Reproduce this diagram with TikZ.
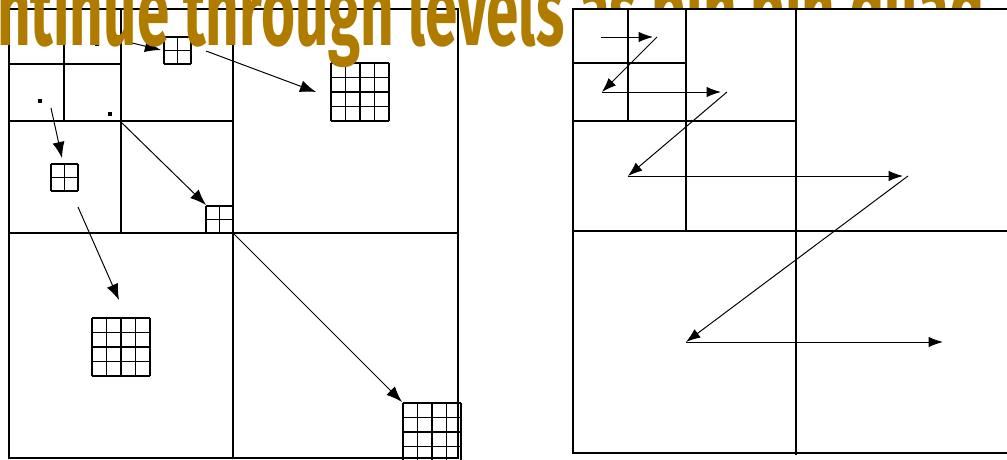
\documentclass[tikz,border=0pt]{standalone}
\usepackage{fontspec}
\newfontfamily\headfont{Fira Sans}
\usetikzlibrary{arrows.meta}
\definecolor{headgold}{RGB}{176,124,0}

% square grid of cells: corner x, corner y, cells per side, cell size
\newcommand{\cellgrid}[4]{%
  \foreach \gi in {0,...,#3}{
    \draw[cellline] (#1+\gi*#4,#2) -- (#1+\gi*#4,#2+#3*#4);
    \draw[cellline] (#1,#2+\gi*#4) -- (#1+#3*#4,#2+\gi*#4);
  }}

\begin{document}
\begin{tikzpicture}[
  x=0.025cm,y=-0.025cm,
  frame/.style={line width=1.3pt},
  cellline/.style={line width=1.3pt},
  arr/.style={line width=0.7pt,-{Latex[length=4mm,width=3mm]}},
  zarr/.style={line width=0.7pt,-{Latex[length=3.6mm,width=2.6mm]}},
  pixdot/.style={fill,inner sep=0pt,minimum size=2.4pt},
]
\useasboundingbox (0,0) rectangle (1007,460);
\clip (0,0) rectangle (1007,460);

%% left panel: quadtree cells
\draw[frame] (9,9) rectangle (458,458);
\draw[frame] (233,9) -- (233,458);
\draw[frame] (9,233) -- (458,233);
\draw[frame] (121,9) -- (121,233);
\draw[frame] (9,121) -- (233,121);
\draw[frame] (64,9) -- (64,121);
\draw[frame] (9,64) -- (121,64);

\node[pixdot] (d1) at (97,44) {};
\node[pixdot] (d2) at (40,101) {};
\node[pixdot] (d3) at (110,114) {};

%% left panel: blown-up bins
\cellgrid{164}{37}{2}{13.5}
\cellgrid{51}{164}{2}{13.5}
\cellgrid{206}{206}{2}{13.5}
\cellgrid{331}{63}{4}{14.5}
\cellgrid{92}{318}{4}{14.5}
\cellgrid{403}{403}{4}{14.5}

\coordinate (l1s) at (128,42);  \coordinate (l1e) at (161,50);
\coordinate (l2s) at (206,51);  \coordinate (l2e) at (316,92);
\coordinate (l3s) at (51,108);  \coordinate (l3e) at (62,158);
\coordinate (l4s) at (122,123); \coordinate (l4e) at (206,205);
\coordinate (l5s) at (78,207);  \coordinate (l5e) at (119,300);
\coordinate (l6s) at (233,233); \coordinate (l6e) at (402,402);
\foreach \n in {1,...,6}
  \draw[arr] (l\n s) -- (l\n e);

%% title
\node[headgold,font=\headfont\bfseries\fontsize{71}{71}\selectfont,
      anchor=base west,xscale=0.585,inner sep=0pt] (title) at (-3,45)
  {\llap{Co}ntinue through levels as bin bin quad};

%% right panel: Z-order walk
\draw[frame,fill=white] (573,9) rectangle (1019,453);
\draw[frame] (796,9) -- (796,455);
\draw[frame] (573,231) -- (1019,231);
\draw[frame] (686,9) -- (686,231);
\draw[frame] (573,121) -- (796,121);
\draw[frame] (628,9) -- (628,121);
\draw[frame] (573,63) -- (686,63);

\coordinate (r1s) at (601,37);  \coordinate (r1e) at (653,37);
\coordinate (r2s) at (657,37);  \coordinate (r2e) at (602,92);
\coordinate (r3s) at (602,92);  \coordinate (r3e) at (721,92);
\coordinate (r4s) at (727,92);  \coordinate (r4e) at (628,176);
\coordinate (r5s) at (628,176); \coordinate (r5e) at (903,176);
\coordinate (r6s) at (908,176); \coordinate (r6e) at (686,342);
\coordinate (r7s) at (686,342); \coordinate (r7e) at (943,342);
\foreach \n in {1,...,7}
  \draw[zarr] (r\n s) -- (r\n e);

\end{tikzpicture}
\end{document}
